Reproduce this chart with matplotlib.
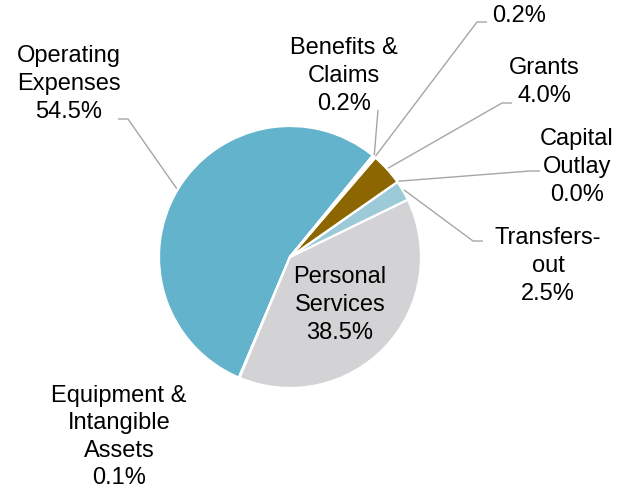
import matplotlib.pyplot as plt
import numpy as np

# slices, counter-clockwise starting at the top-right
categories = [
    "Operating\nExpenses",
    "Equipment &\nIntangible\nAssets",
    "Personal\nServices",
    "Transfers-\nout",
    "Capital\nOutlay",
    "Grants",
    "",
    "Benefits &\nClaims",
]
shares = [54.5, 0.1, 38.5, 2.5, 0.0, 4.0, 0.2, 0.2]
colors = ["#62B3CB", "#2F6A8A", "#D3D3D5", "#9DCAD9", "#C9A85A", "#8C6600", "#7F7F7F", "#3E7FA0"]

W, H = 631, 494

plt.rcParams["font.family"] = ["Liberation Sans", "DejaVu Sans"]

fig = plt.figure(figsize=(W / 100, H / 100), dpi=100)
ax = fig.add_axes([0, 0, 1, 1])

cx, cy, r = 290, H - 257, 131
wedges, _ = ax.pie(
    shares,
    colors=colors,
    center=(cx, cy),
    radius=r,
    startangle=50.8,
    counterclock=True,
    wedgeprops=dict(edgecolor="white", linewidth=1.6),
    frame=True,
)
ax.set_xlim(0, W)
ax.set_ylim(0, H)
ax.set_aspect("equal")
ax.axis("off")


def px(x, y):
    return x, H - y


def edge_point(w, scale=1.0):
    ang = np.deg2rad((w.theta1 + w.theta2) / 2)
    return cx + r * scale * np.cos(ang), cy + r * scale * np.sin(ang)


# label block centres (pixels) and leader elbows; None = no leader
label_pos = [(69, 84), (119, 437), (340, 305), (548, 266), (577, 167), (544, 82), (519, 16), (344, 76)]
elbows = [
    [(118, 119), (128, 119)],
    None,
    None,
    [(483, 241), (473, 241)],
    [(540, 171), (530, 171)],
    [(512, 103), (502, 103)],
    [(487, 22), (477, 22)],
    [(378, 110)],
]

for w, name, val, pos, elb in zip(wedges, categories, shares, label_pos, elbows):
    text = f"{name}\n{val:.1f}%" if name else f"{val:.1f}%"
    ax.text(*px(*pos), text, ha="center", va="center", fontsize=17,
            color="#000000", linespacing=1.33)
    if elb:
        pts = [px(*p) for p in elb] + [edge_point(w, 1.01)]
        xs, ys = zip(*pts)
        ax.plot(xs, ys, color="#A6A6A6", linewidth=1.0, solid_capstyle="butt")

fig.savefig("out.png", dpi=100)
